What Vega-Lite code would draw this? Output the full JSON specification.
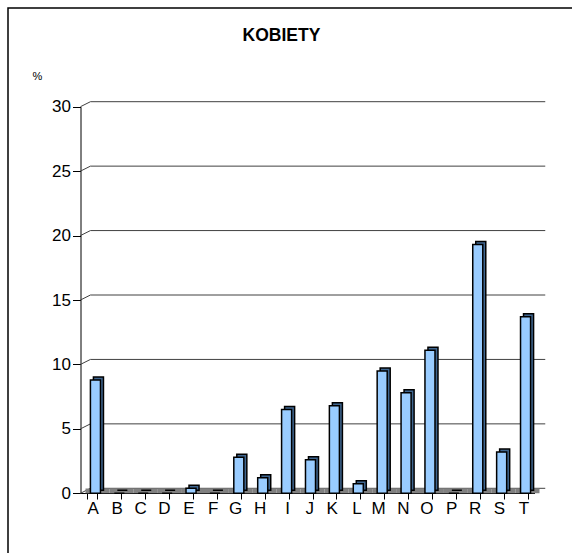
{
  "$schema": "https://vega.github.io/schema/vega-lite/v6.json",
  "autosize": {"type": "none"},
  "padding": {"left": 8, "top": 8, "right": 0, "bottom": 0},
  "width": 570,
  "height": 550,
  "background": "white",
  "config": {
    "font": "Liberation Sans",
    "view": {"stroke": "black", "strokeWidth": 1.5}
  },
  "title": {
    "text": "KOBIETY",
    "fontSize": 17.5,
    "fontWeight": "bold",
    "font": "Liberation Sans",
    "color": "black",
    "anchor": "middle",
    "dx": -11.5,
    "offset": -36
  },
  "datasets": {
    "bars": [
      {"k": "A", "v": 8.8},
      {"k": "B", "v": 0},
      {"k": "C", "v": 0},
      {"k": "D", "v": 0},
      {"k": "E", "v": 0.4},
      {"k": "F", "v": 0},
      {"k": "G", "v": 2.8},
      {"k": "H", "v": 1.2},
      {"k": "I", "v": 6.5},
      {"k": "J", "v": 2.6},
      {"k": "K", "v": 6.8},
      {"k": "L", "v": 0.75},
      {"k": "M", "v": 9.5},
      {"k": "N", "v": 7.8},
      {"k": "O", "v": 11.1},
      {"k": "P", "v": 0},
      {"k": "R", "v": 19.3},
      {"k": "S", "v": 3.2},
      {"k": "T", "v": 13.7}
    ],
    "grid": [
      {"g": 0}, {"g": 5}, {"g": 10}, {"g": 15}, {"g": 20}, {"g": 25}, {"g": 30}
    ]
  },
  "layer": [
    {
      "data": {"name": "grid"},
      "mark": {"type": "rule", "color": "#404040", "strokeWidth": 1, "xOffset": -2, "x2Offset": 22.7, "yOffset": -5, "y2Offset": -5},
      "encoding": {
        "x": {"datum": "A", "type": "nominal"},
        "x2": {"datum": "T"},
        "y": {"field": "g", "type": "quantitative"},
        "y2": {"field": "g"}
      }
    },
    {
      "data": {"name": "grid"},
      "mark": {"type": "rule", "color": "#404040", "strokeWidth": 1, "xOffset": -12, "x2Offset": -2, "y2Offset": -5},
      "encoding": {
        "x": {"datum": "A", "type": "nominal"},
        "x2": {"datum": "A"},
        "y": {"field": "g", "type": "quantitative"},
        "y2": {"field": "g"}
      }
    },
    {
      "data": {"name": "bars"},
      "mark": {"type": "bar", "color": "#808080", "width": {"band": 2.381}, "xOffset": 5},
      "encoding": {
        "x": {"field": "k", "type": "nominal", "sort": null},
        "y": {"datum": 0, "type": "quantitative"},
        "y2": {"datum": 0.38}
      }
    },
    {
      "data": {"name": "bars"},
      "mark": {"type": "bar", "fill": "#3f6690", "stroke": "black", "strokeWidth": 1.5, "xOffset": 6, "yOffset": -3},
      "encoding": {
        "x": {
          "field": "k",
          "type": "nominal",
          "sort": null,
          "scale": {
            "domain": ["A", "B", "C", "D", "E", "F", "G", "H", "I", "J", "K", "L", "M", "N", "O", "P", "R", "S", "T"],
            "range": [72.5, 526.5],
            "paddingInner": 0.58,
            "paddingOuter": 0.29
          },
          "axis": {
            "offset": -65,
            "tickBand": "extent",
            "labelAngle": 0,
            "labelOffset": 6,
            "domainColor": "black",
            "tickColor": "black",
            "tickSize": 6,
            "labelFontSize": 17,
            "labelColor": "black",
            "labelPadding": 9,
            "title": null,
            "grid": false
          }
        },
        "y": {
          "field": "v",
          "type": "quantitative",
          "scale": {"domain": [0, 30], "range": [485.3, 98.7], "nice": false},
          "axis": {
            "values": [0, 5, 10, 15, 20, 25, 30],
            "offset": -72.5,
            "grid": false,
            "domainColor": "black",
            "tickColor": "black",
            "tickSize": 8,
            "labelFontSize": 17,
            "labelColor": "black",
            "labelPadding": 2,
            "title": "%",
            "titleAngle": 0,
            "titleX": -43.5,
            "titleY": 68,
            "titleAlign": "center",
            "titleBaseline": "middle",
            "titleFontWeight": "normal",
            "titleFontSize": 11,
            "titleColor": "black"
          }
        }
      }
    },
    {
      "data": {"name": "bars"},
      "mark": {"type": "bar", "fill": "#99ccff", "stroke": "black", "strokeWidth": 1.5, "xOffset": 3},
      "encoding": {
        "x": {"field": "k", "type": "nominal", "sort": null},
        "y": {"field": "v", "type": "quantitative"}
      }
    }
  ]
}
